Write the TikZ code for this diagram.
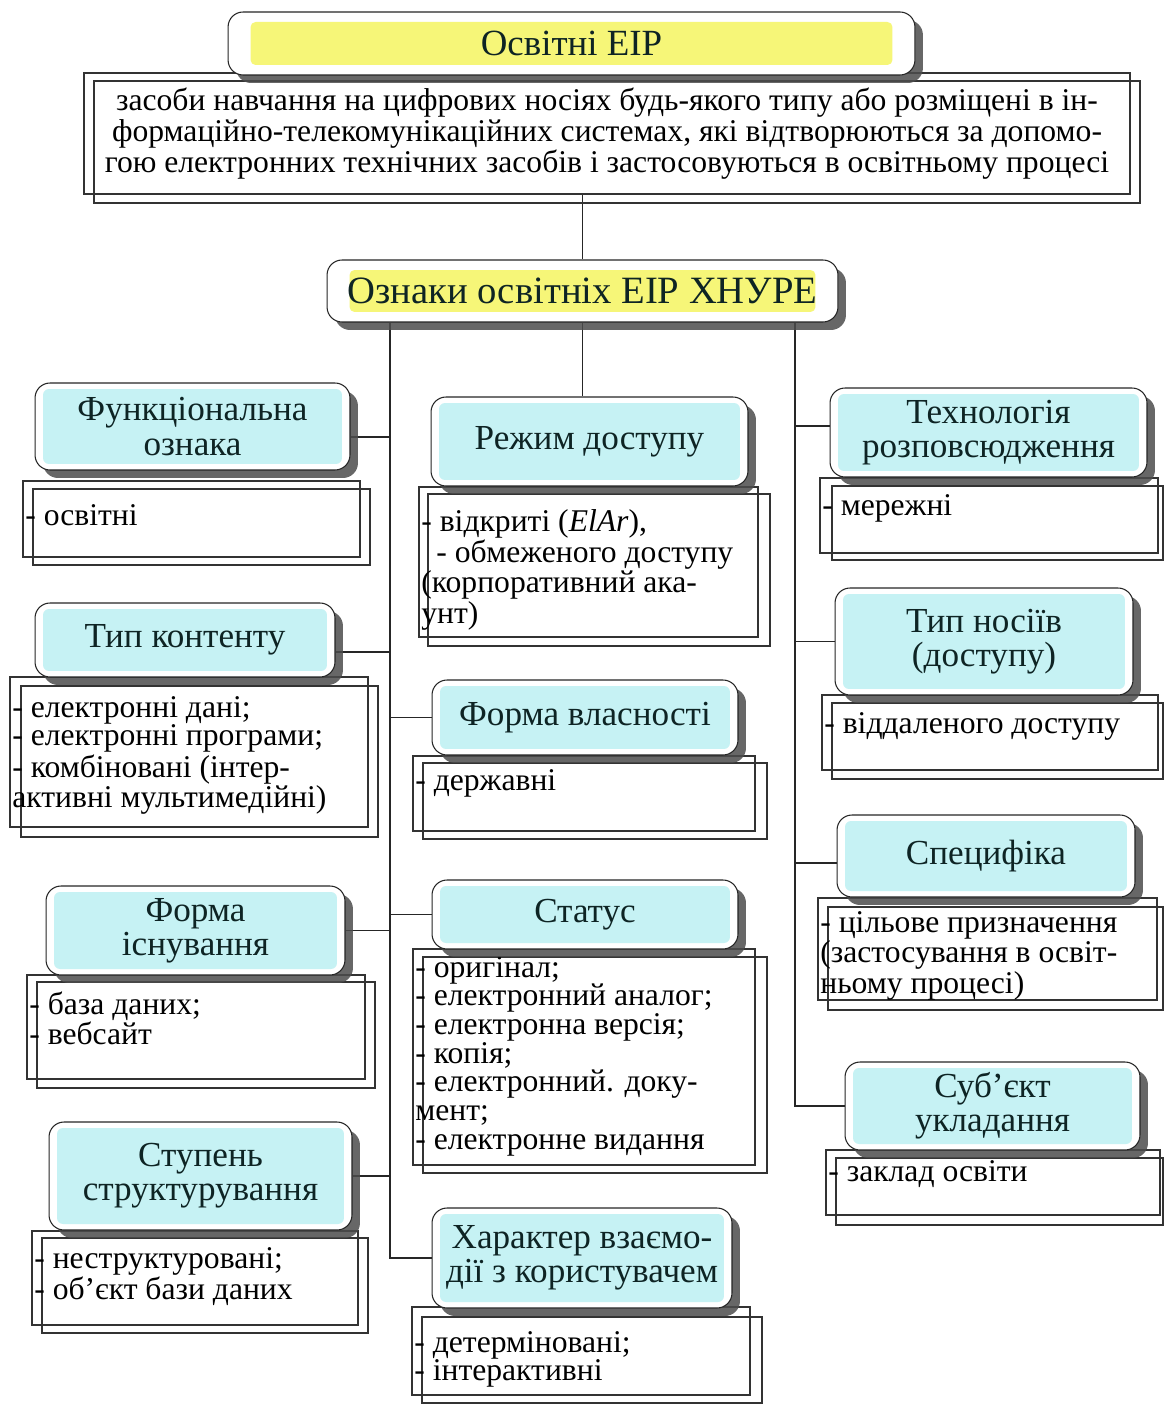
\documentclass[tikz,border=0pt]{standalone}
\usepackage{fontspec}
\setmainfont{Liberation Serif}
\usetikzlibrary{shadows,backgrounds}
\definecolor{hdcyan}{RGB}{198,242,244}
\definecolor{hdyellow}{RGB}{246,246,120}
\definecolor{hdtext}{RGB}{14,36,36}
\newcommand{\hdfont}{\fontsize{20}{19.5}\selectfont}
\newcommand{\txfont}{\fontsize{18}{16.3}\selectfont}

\begin{document}
\begin{tikzpicture}[x=0.02cm,y=-0.02cm]
  \useasboundingbox (0,0) rectangle (1165,1405);
  \tikzstyle{hdr} = [draw=black!85, line width=0.6pt, rounded corners=0.3cm, fill=white, inner sep=0pt, align=center, text=hdtext, font=\hdfont, drop shadow={shadow xshift=0.16cm, shadow yshift=-0.16cm, fill=black!70, opacity=0.85}]
  \tikzstyle{cyanfill} = [path picture={\fill[hdcyan, rounded corners=0.12cm] ([shift={(0.16cm,0.12cm)}]path picture bounding box.south west) rectangle ([shift={(-0.16cm,-0.12cm)}]path picture bounding box.north east);}]
  \tikzstyle{yellowfill} = [path picture={\fill[hdyellow, rounded corners=0.1cm] ([shift={(0.45cm,0.2cm)}]path picture bounding box.south west) rectangle ([shift={(-0.45cm,-0.2cm)}]path picture bounding box.north east);}]
  \tikzstyle{cbox} = [draw=black!80, line width=0.7pt]
  \tikzstyle{txt} = [anchor=north west, align=left, inner sep=0pt, font=\txfont]
  \tikzstyle{link} = [draw=black!85, line width=0.9pt]

  % definition
  \draw[cbox] (94,81) rectangle (1140,203);
  \node[cbox, minimum width=20.92cm, minimum height=2.42cm, align=center, inner sep=0pt, font=\txfont] (def) at (607,133.5)
    {засоби навчання на цифрових носіях будь-якого типу або розміщені в ін-\\
     формаційно-телекомунікаційних системах, які відтворюються за допомо-\\
     гою електронних технічних засобів і застосовуються в освітньому процесі};

  % content boxes
  \draw[cbox] (23,481) rectangle (360,557) (33,489) rectangle (370,565);
  \node[txt] (f) at (25,504) {- освітні};
  \draw[cbox] (10,677) rectangle (368,827) (21,686) rectangle (378,837);
  \node[txt] (t) at (12,696) {- електронні дані;\\- електронні програми;\\- комбіновані (інтер-\\активні мультимедійні)};
  \draw[cbox] (27,975) rectangle (365,1079) (37,982) rectangle (375,1088);
  \node[txt] (i) at (29,991) {- база даних;\\- вебсайт};
  \draw[cbox] (32,1231) rectangle (358,1325) (42,1238) rectangle (368,1333);
  \node[txt] (s) at (34,1247) {- неструктуровані;\\- об’єкт бази даних};
  \draw[cbox] (419,487) rectangle (758,637) (428,494) rectangle (770,646);
  \node[txt] (r) at (421,509) {- відкриті (\textit{ElAr}),\\\hspace*{0.3cm}- обмеженого доступу\\(корпоративний ака-\\унт)};
  \draw[cbox] (413,756) rectangle (755,831) (423,763) rectangle (767,839);
  \node[txt] (v) at (415,769) {- державні};
  \draw[cbox] (413,949) rectangle (755,1165) (423,957) rectangle (767,1173);
  \node[txt] (st) at (415,956) {- оригінал;\\- електронний аналог;\\- електронна версія;\\- копія;\\- електронний. доку-\\мент;\\- електронне видання};
  \draw[cbox] (412,1307) rectangle (750,1395) (422,1317) rectangle (762,1403);
  \node[txt] (x) at (414,1331) {- детерміновані;\\- інтерактивні};
  \draw[cbox] (820,478) rectangle (1158,553) (832,486) rectangle (1163,560);
  \node[txt] (te) at (822,494) {- мережні};
  \draw[cbox] (822,695) rectangle (1158,770) (832,703) rectangle (1163,779);
  \node[txt] (n) at (824,712) {- віддаленого доступу};
  \draw[cbox] (818,898) rectangle (1157,1000) (828,907) rectangle (1163,1010);
  \node[txt] (sp) at (820,911) {- цільове призначення\\(застосування в освіт-\\ньому процесі)};
  \draw[cbox] (826,1150) rectangle (1160,1215) (836,1158) rectangle (1163,1225);
  \node[txt] (su) at (828,1160) {- заклад освіти};

  % headers
  \node[hdr, yellowfill, minimum width=13.74cm, minimum height=1.26cm, font=\fontsize{21}{20}\selectfont] (E) at (571.5,43.5) {Освітні ЕІР};
  \node[hdr, yellowfill, minimum width=10.22cm, minimum height=1.24cm, font=\fontsize{22}{20}\selectfont] (O) at (582.5,291) {Ознаки освітніх ЕІР ХНУРЕ};
  \node[hdr, cyanfill, minimum width=6.30cm, minimum height=1.74cm] (F) at (192.5,426.5) {Функціональна\\ознака};
  \node[hdr, cyanfill, minimum width=6.00cm, minimum height=1.48cm] (T) at (185,640) {Тип контенту};
  \node[hdr, cyanfill, minimum width=5.98cm, minimum height=1.78cm] (I) at (195.5,930.5) {Форма\\існування};
  \node[hdr, cyanfill, minimum width=6.06cm, minimum height=2.16cm] (S) at (200.5,1176) {Ступень\\структурування};
  \node[hdr, cyanfill, minimum width=6.34cm, minimum height=1.78cm] (R) at (589.5,441.5) {Режим доступу};
  \node[hdr, cyanfill, minimum width=6.12cm, minimum height=1.50cm] (V) at (585,717.5) {Форма власності};
  \node[hdr, cyanfill, minimum width=6.12cm, minimum height=1.38cm] (St) at (585,914.5) {Статус};
  \node[hdr, cyanfill, minimum width=6.00cm, minimum height=2.00cm] (X) at (582,1258) {Характер взаємо-\\дії з користувачем};
  \node[hdr, cyanfill, minimum width=6.34cm, minimum height=1.78cm] (Te) at (988.5,432.5) {Технологія\\розповсюдження};
  \node[hdr, cyanfill, minimum width=5.96cm, minimum height=2.14cm] (N) at (984,641.5) {Тип носіїв\\(доступу)};
  \node[hdr, cyanfill, minimum width=5.96cm, minimum height=1.64cm] (Sp) at (986,856) {Специфіка};
  \node[hdr, cyanfill, minimum width=5.90cm, minimum height=1.76cm] (Su) at (992.5,1106) {Суб’єкт\\укладання};

  \coordinate (L) at (390,0);
  \coordinate (Rt) at (795,0);
  \begin{pgfonlayer}{background}
  \path[link] (def.south -| O.north) edge (O.north);
  \path[link] (O.south) edge (O.south |- R.north);
  \draw[link] (O.south -| L) -- (L |- X.west) -- (X.west);
  \draw[link] (O.south -| Rt) -- (Rt |- Su.west) -- (Su.west);
  \path[link] ([yshift=-0.21cm]F.east) edge ([yshift=-0.21cm]F.east -| L);
  \path[link] ([yshift=-0.24cm]T.east) edge ([yshift=-0.24cm]T.east -| L);
  \path[link] (I.east) edge (I.east -| L);
  \path[link] (S.east) edge (S.east -| L);
  \path[link] (V.west -| L) edge (V.west);
  \path[link] (St.west -| L) edge (St.west);
  \path[link] ([yshift=0.13cm]Te.west -| Rt) edge ([yshift=0.13cm]Te.west);
  \path[link] (N.west -| Rt) edge (N.west);
  \path[link] ([yshift=-0.14cm]Sp.west -| Rt) edge ([yshift=-0.14cm]Sp.west);
  \end{pgfonlayer}
\end{tikzpicture}
\end{document}
